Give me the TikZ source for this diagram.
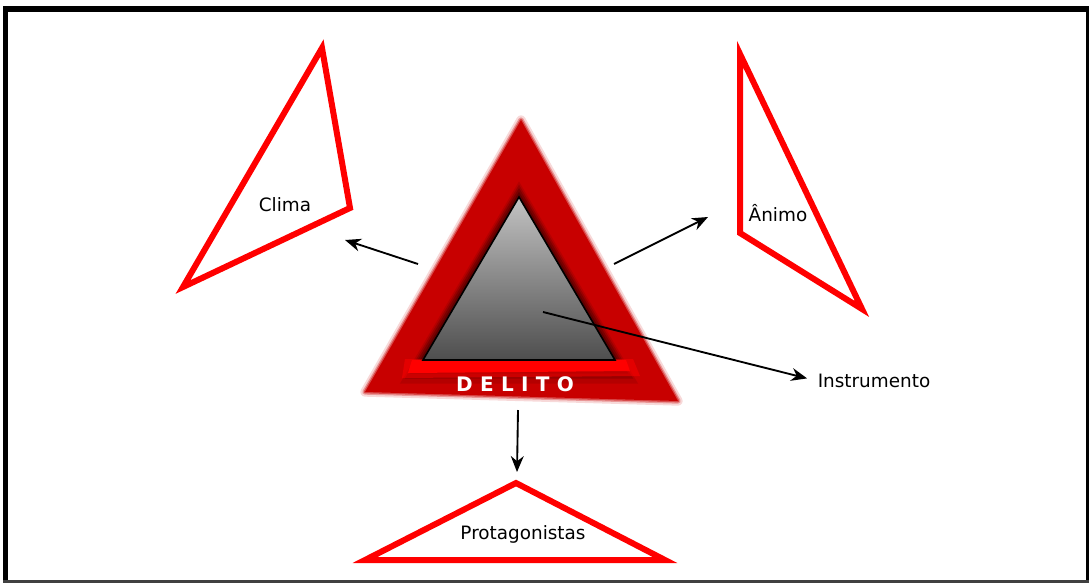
\documentclass[tikz,border=0pt]{standalone}
\usepackage{fontspec}
\setmainfont{DejaVu Sans}
\usetikzlibrary{arrows.meta,calc}
\definecolor{signred}{RGB}{200,0,0}
\definecolor{shadowred}{RGB}{70,0,0}
\definecolor{lightred}{RGB}{255,0,0}
\definecolor{topgray}{RGB}{195,195,195}
\definecolor{botgray}{RGB}{78,78,78}

\begin{document}
\begin{tikzpicture}[x=0.75pt,y=-0.75pt,
        redtri/.style={draw=red,line width=4.5pt,line join=miter},
        lbl/.style={font=\fontsize{13.8}{15}\selectfont,inner sep=0pt},
        arr/.style={line width=1.4pt,-{Stealth[length=4.2mm,width=3.4mm]}}]
                \useasboundingbox (0,0) rectangle (1091,583);
                % frame
                \fill[black] (3,6) rectangle (1089,12);
                \fill[black] (3,6) rectangle (8,583);
                \fill[black] (1086,6) rectangle (1089,583);
                \fill[black!75] (3,580) rectangle (1089,583);

                % the outer triangle, blurred edges faked with wide faint strokes
                \foreach \w/\o in {7/0.15,4/0.3,2/0.5} {
                    \draw[signred,line width=\w pt,opacity=\o,line join=round] (521,120) -- (678,401) -- (365,392) -- cycle;
                }
                \fill[signred] (521,120) -- (678,401) -- (365,392) -- cycle;
                % dark shadow round the inner triangle
                \foreach \s/\o in {1.24/0.15,1.19/0.25,1.14/0.35,1.08/0.5} {
                    \fill[shadowred,opacity=\o] ($(519,262)!\s!(519,197)$) -- ($(519,262)!\s!(423,360)$) -- ($(519,262)!\s!(615,360)$) -- cycle;
                }
                \fill[lightred,opacity=0.5] (405,359) -- (633,359) -- (640,376) -- (402,378) -- cycle;
                \fill[lightred] (412,360) -- (626,360) -- (630,371) -- (408,373) -- cycle;
                \shade[top color=topgray,bottom color=botgray,draw=black,line width=1.2pt] (519,197) -- (615,360) -- (423,360) -- cycle;
                \node[inner sep=0pt,text=white,font=\bfseries\fontsize{15}{17}\selectfont] (delito) at (515,384) {D\hspace{5.5pt}E\hspace{5.5pt}L\hspace{5.5pt}I\hspace{5.5pt}T\hspace{5.5pt}O};

                % the four triangles
                \draw[redtri] (322,48) -- (350,208) -- (183,287) -- cycle;
                \draw[redtri] (740,54) -- (862,309) -- (740,233) -- cycle;
                \draw[redtri] (516,483) -- (665,560) -- (365,560) -- cycle;

                \node[lbl] (clima) at (285,205) {Clima};
                \node[lbl] (animo) at (778,213) {Ânimo};
                \node[lbl] (prot) at (523,534) {Protagonistas};
                \node[lbl] (instr) at (874,381) {Instrumento};

                % connectors
                \coordinate (c1) at (418,264);
                \coordinate (c2) at (345,240);
                \coordinate (a1) at (614,264);
                \coordinate (a2) at (708,217);
                \coordinate (i1) at (543,312);
                \coordinate (p1) at (518,410);
                \coordinate (p2) at (517,472);
                \draw[arr] (c1) -- (c2);
                \draw[arr] (a1) -- (a2);
                \draw[arr,shorten >=8pt] (i1) -- (instr.west);
                \draw[arr] (p1) -- (p2);
\end{tikzpicture}
\end{document}
